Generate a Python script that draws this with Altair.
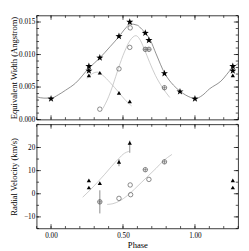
import altair as alt
import pandas as pd

# ---------------- data ----------------
# Equivalent width panel
ew_star_phase = [0.0, 0.263, 0.263, 0.339, 0.472, 0.547, 0.655, 0.680, 0.788, 0.896, 1.0, 1.263, 1.263]
ew_star_val = [0.0032, 0.0082, 0.0075, 0.0095, 0.0128, 0.0150, 0.0133, 0.0122, 0.0071, 0.0043, 0.0032, 0.0082, 0.0075]
ew_tri_phase = [0.263, 0.339, 0.472, 0.547, 1.263]
ew_tri_val = [0.0068, 0.0072, 0.0041, 0.0028, 0.0068]
ew_circ_phase = [0.339, 0.472, 0.550, 0.547, 0.655, 0.680, 0.788]
ew_circ_val = [0.0016, 0.0078, 0.0141, 0.0111, 0.0108, 0.0108, 0.0049]
ew_circ_cross = [False, False, False, False, True, True, True]

ew_main_curve_phase = [-0.10, -0.05, 0.00, 0.05, 0.10, 0.17, 0.263, 0.34, 0.41, 0.47, 0.52, 0.55,
                       0.60, 0.63, 0.66, 0.69, 0.73, 0.79, 0.85, 0.90, 0.97, 1.00, 1.05, 1.10,
                       1.18, 1.263, 1.30]
ew_main_curve_val = [0.0035, 0.0033, 0.0033, 0.0038, 0.0045, 0.0056, 0.0079, 0.0095, 0.0112, 0.0127,
                     0.0141, 0.0147, 0.0145, 0.0139, 0.0132, 0.0122, 0.0101, 0.0071, 0.0053, 0.0043,
                     0.0034, 0.0032, 0.0037, 0.0047, 0.0059, 0.0080, 0.0086]
ew_circ_curve_phase = [0.36, 0.40, 0.43, 0.47, 0.51, 0.55, 0.59, 0.615, 0.645, 0.685, 0.725, 0.775, 0.825]
ew_circ_curve_val = [0.0017, 0.0035, 0.0053, 0.0080, 0.0104, 0.0122, 0.0129, 0.0124, 0.0110, 0.0088,
                     0.0068, 0.0049, 0.0034]
ew_tri_curve_phase = [0.25, 0.29, 0.32, 0.36, 0.41, 0.47, 0.52, 0.56]
ew_tri_curve_val = [0.0063, 0.0071, 0.0073, 0.0068, 0.0057, 0.0042, 0.0029, 0.0021]

# Radial velocity panel
rv_tri_phase = [0.263, 0.263, 0.339, 0.472, 0.547, 1.263, 1.263]
rv_tri_val = [5.8, 2.7, 4.6, 13.8, 22.0, 5.8, 2.7]
rv_circ_phase = [0.339, 0.472, 0.550, 0.553, 0.655, 0.680, 0.788]
rv_circ_val = [-3.5, -2.0, 3.8, -0.4, 10.4, 6.2, 13.8]
rv_circ_cross = [True, False, False, False, True, False, True]
rv_err_phase = [0.472, 0.547, 0.339]
rv_err_lo = [11.9, 17.7, -8.5]
rv_err_hi = [15.0, 23.0, 1.5]

rv_tri_curve_phase = [0.22, 0.27, 0.32, 0.37, 0.42, 0.47, 0.51, 0.54]
rv_tri_curve_val = [-1.5, 1.5, 4.8, 8.2, 11.8, 15.2, 17.5, 18.3]
rv_circ_curve_phase = [0.39, 0.43, 0.48, 0.53, 0.58, 0.63, 0.68, 0.73, 0.78, 0.84]
rv_circ_curve_val = [-4.6, -4.3, -3.0, -0.8, 2.0, 5.0, 8.0, 11.0, 14.2, 17.0]

# axis tick positions
x_ticks = [round(-0.1 + 0.1 * i, 1) for i in range(15)]
x_major = [0.0, 0.5, 1.0]
x_labels = [0.0, 0.5, 1.0]
ew_ticks = [round(0.001 * i, 3) for i in range(17)]
ew_major = [0.0, 0.005, 0.010, 0.015]
rv_ticks = [-15 + 5 * i for i in range(10)]
rv_major = [-10, 0, 10, 20]

W, H = 211, 109
X_DOM = [-0.1, 1.3]
FONT = "Liberation Serif"
MAIN_GRAY = "#707070"
LIGHT_GRAY = "#bdbdbd"
CIRC = "#555555"
STAR = ("M0,-1L0.235,-0.324L0.951,-0.309L0.380,0.124L0.588,0.809L0,0.4"
        "L-0.588,0.809L-0.380,0.124L-0.951,-0.309L-0.235,-0.324Z")
CROSS = "M-1,0L1,0M0,-1L0,1"


def df(**cols):
    return pd.DataFrame(cols)


def build_panel(ydom, yaxis, xaxis, curves, points, yt, ytmaj, errs=None):
    xs = alt.Scale(domain=X_DOM, nice=False, zero=False)
    ys = alt.Scale(domain=ydom, nice=False, zero=False)

    def X(f):
        return alt.X(f, type="quantitative", scale=xs, axis=xaxis)

    def Y(f):
        return alt.Y(f, type="quantitative", scale=ys, axis=yaxis)

    layers = []
    for px, py, col in curves:
        layers.append(
            alt.Chart(df(p=px, v=py)).mark_line(color=col, strokeWidth=0.8, interpolate="monotone")
            .encode(x=X("p"), y=Y("v"))
        )
    # inward ticks on all four sides
    for vals, L in ((x_ticks, 2.5), (x_major, 4.5)):
        d = df(t=vals)
        layers.append(alt.Chart(d).mark_rule(color="black", strokeWidth=0.7)
                      .encode(x=X("t"), y=alt.value(H), y2=alt.value(H - L)))
        layers.append(alt.Chart(d).mark_rule(color="black", strokeWidth=0.7)
                      .encode(x=X("t"), y=alt.value(0), y2=alt.value(L)))
    for vals, L in ((yt, 2.5), (ytmaj, 4.5)):
        d = df(t=vals)
        layers.append(alt.Chart(d).mark_rule(color="black", strokeWidth=0.7)
                      .encode(y=Y("t"), x=alt.value(0), x2=alt.value(L)))
        layers.append(alt.Chart(d).mark_rule(color="black", strokeWidth=0.7)
                      .encode(y=Y("t"), x=alt.value(W), x2=alt.value(W - L)))
    if errs is not None:
        ep, lo, hi = errs
        layers.append(alt.Chart(df(p=ep, lo=lo, hi=hi)).mark_rule(color=CIRC, strokeWidth=0.7)
                      .encode(x=X("p"), y=Y("lo"), y2=alt.Y2("hi")))
    for kind, px, py, extra in points:
        d = df(p=px, v=py)
        if kind == "star":
            m = alt.Chart(d).mark_point(shape=STAR, filled=True, color="black", size=60, opacity=1)
        elif kind == "tri":
            m = alt.Chart(d).mark_point(shape="triangle-up", filled=True, color="black", size=20, opacity=1)
        else:
            m = alt.Chart(d).mark_point(shape="circle", filled=False, color=CIRC, size=22,
                                        strokeWidth=0.7, opacity=1)
        layers.append(m.encode(x=X("p"), y=Y("v")))
        if kind == "circ" and extra is not None:
            cx = [a for a, c in zip(px, extra) if c]
            cy = [b for b, c in zip(py, extra) if c]
            layers.append(alt.Chart(df(p=cx, v=cy))
                          .mark_point(shape=CROSS, filled=False, color=CIRC,
                                      size=22, strokeWidth=0.6, opacity=1)
                          .encode(x=X("p"), y=Y("v")))
    return alt.layer(*layers).properties(width=W, height=H)


def yaxis(title, values, fmt):
    return alt.Axis(values=values, format=fmt, ticks=False, domain=False, grid=False,
                    labelFont=FONT, labelFontSize=7.5, labelPadding=2, labelColor="black",
                    title=title, titleFont=FONT, titleFontSize=9, titleFontWeight="normal",
                    titleColor="black", titleX=-19, titleY=H / 2, titleAngle=-90,
                    titleAlign="center", titleBaseline="bottom")


top = build_panel(
    [0, 0.016],
    yaxis("Equivalent Width (Angstrom)", ew_major, ".3f"),
    None,
    [(ew_main_curve_phase, ew_main_curve_val, MAIN_GRAY),
     (ew_circ_curve_phase, ew_circ_curve_val, LIGHT_GRAY),
     (ew_tri_curve_phase, ew_tri_curve_val, LIGHT_GRAY)],
    [("circ", ew_circ_phase, ew_circ_val, ew_circ_cross),
     ("tri", ew_tri_phase, ew_tri_val, None),
     ("star", ew_star_phase, ew_star_val, None)],
    ew_ticks, ew_major,
)

xaxis_bottom = alt.Axis(values=x_labels, format=".2f", ticks=False, domain=False, grid=False,
                        labelFont=FONT, labelFontSize=7.5, labelPadding=4, labelColor="black",
                        title="Phase", titleFont=FONT, titleFontSize=9, titleFontWeight="normal",
                        titleColor="black", titlePadding=1)

bottom = build_panel(
    [-15, 30],
    yaxis("Radial Velocity (km/s)", rv_major, "d"),
    xaxis_bottom,
    [(rv_tri_curve_phase, rv_tri_curve_val, LIGHT_GRAY),
     (rv_circ_curve_phase, rv_circ_curve_val, LIGHT_GRAY)],
    [("circ", rv_circ_phase, rv_circ_val, rv_circ_cross),
     ("tri", rv_tri_phase, rv_tri_val, None)],
    rv_ticks, rv_major,
    errs=(rv_err_phase, rv_err_lo, rv_err_hi),
)

chart = (
    alt.vconcat(top, bottom, spacing=0)
    .properties(padding={"left": 1, "top": 1, "right": 1, "bottom": 1}, background="white")
    .configure(font=FONT)
    .configure_view(stroke="black", strokeWidth=0.8)
)

chart.save("out.html", embed_options={"renderer": "svg", "actions": False})
